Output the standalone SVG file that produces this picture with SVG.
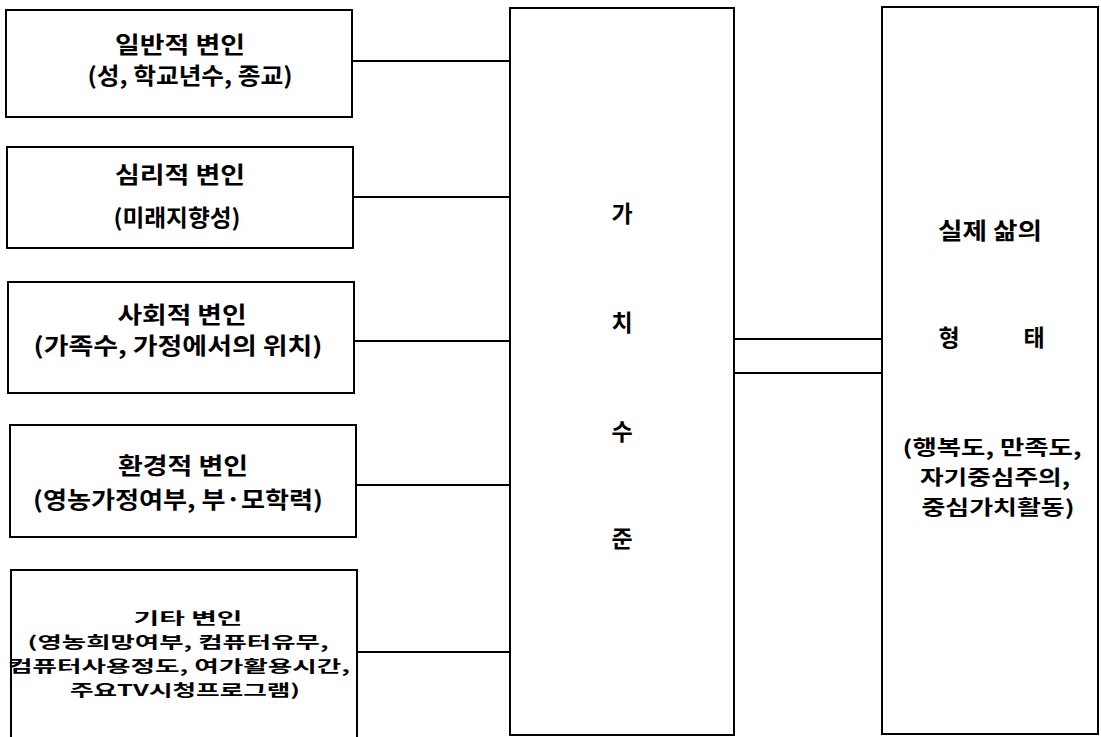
<svg xmlns="http://www.w3.org/2000/svg" width="1101" height="737" viewBox="0 0 1101 737">
<style>
.box{fill:#fff;stroke:#000;stroke-width:2}
.ln{stroke:#000;stroke-width:2;fill:none}
text{font-family:"Noto Sans CJK KR","Noto Sans",sans-serif;font-weight:bold;font-size:23px;fill:#000;text-anchor:middle}
.sm{font-size:16px}
.md{font-size:20px}
</style>
<rect width="1101" height="737" fill="#fff"/>
<g id="connectors">
<line class="ln" x1="352" y1="61" x2="510" y2="61"/>
<line class="ln" x1="353" y1="197" x2="510" y2="197"/>
<line class="ln" x1="354" y1="341" x2="511" y2="341"/>
<line class="ln" x1="356" y1="485" x2="512" y2="485"/>
<line class="ln" x1="357" y1="652" x2="512" y2="652"/>
<line class="ln" x1="734" y1="339" x2="882" y2="339"/>
<line class="ln" x1="735" y1="373" x2="883" y2="373"/>
</g>
<g id="general">
<rect class="box" x="6" y="10" width="346" height="107"/>
<text x="180" y="53" textLength="130" lengthAdjust="spacingAndGlyphs">일반적 변인</text>
<text x="190" y="84" textLength="205" lengthAdjust="spacingAndGlyphs">(성, 학교년수, 종교)</text>
</g>
<g id="psych">
<rect class="box" x="7" y="147" width="346" height="101"/>
<text x="180" y="183" textLength="130" lengthAdjust="spacingAndGlyphs">심리적 변인</text>
<text x="177" y="226" textLength="127" lengthAdjust="spacingAndGlyphs">(미래지향성)</text>
</g>
<g id="social">
<rect class="box" x="8" y="282" width="346" height="111"/>
<text x="182" y="323" textLength="129" lengthAdjust="spacingAndGlyphs">사회적 변인</text>
<text x="178" y="354" textLength="289" lengthAdjust="spacingAndGlyphs">(가족수, 가정에서의 위치)</text>
</g>
<g id="environ">
<rect class="box" x="10" y="425" width="346" height="112"/>
<text x="183" y="474" textLength="130" lengthAdjust="spacingAndGlyphs">환경적 변인</text>
<text x="178" y="508" textLength="290" lengthAdjust="spacingAndGlyphs">(영농가정여부, 부·모학력)</text>
</g>
<g id="other">
<rect class="box" x="11" y="570" width="346" height="180"/>
<text class="sm" x="188" y="624" textLength="109" lengthAdjust="spacingAndGlyphs">기타 변인</text>
<text class="sm" x="178" y="648" textLength="301" lengthAdjust="spacingAndGlyphs">(영농희망여부, 컴퓨터유무,</text>
<text class="sm" x="179" y="672" textLength="342" lengthAdjust="spacingAndGlyphs">컴퓨터사용정도, 여가활용시간,</text>
<text class="sm" x="185" y="696" textLength="230" lengthAdjust="spacingAndGlyphs">주요TV시청프로그램)</text>
</g>
<g id="value-level">
<rect class="box" x="510" y="8" width="224" height="727"/>
<text x="622" y="222">가</text>
<text x="622" y="331">치</text>
<text x="622" y="440">수</text>
<text x="622" y="547">준</text>
</g>
<g id="real-life">
<rect class="box" x="882" y="7" width="216" height="727"/>
<text x="990" y="239" textLength="104" lengthAdjust="spacingAndGlyphs">실제 삶의</text>
<text y="346"><tspan x="949">형</tspan><tspan x="1034">태</tspan></text>
<text class="md" x="992" y="455" textLength="179" lengthAdjust="spacingAndGlyphs">(행복도, 만족도,</text>
<text class="md" x="995" y="485" textLength="150" lengthAdjust="spacingAndGlyphs">자기중심주의,</text>
<text class="md" x="998" y="515" textLength="153" lengthAdjust="spacingAndGlyphs">중심가치활동)</text>
</g>
</svg>
